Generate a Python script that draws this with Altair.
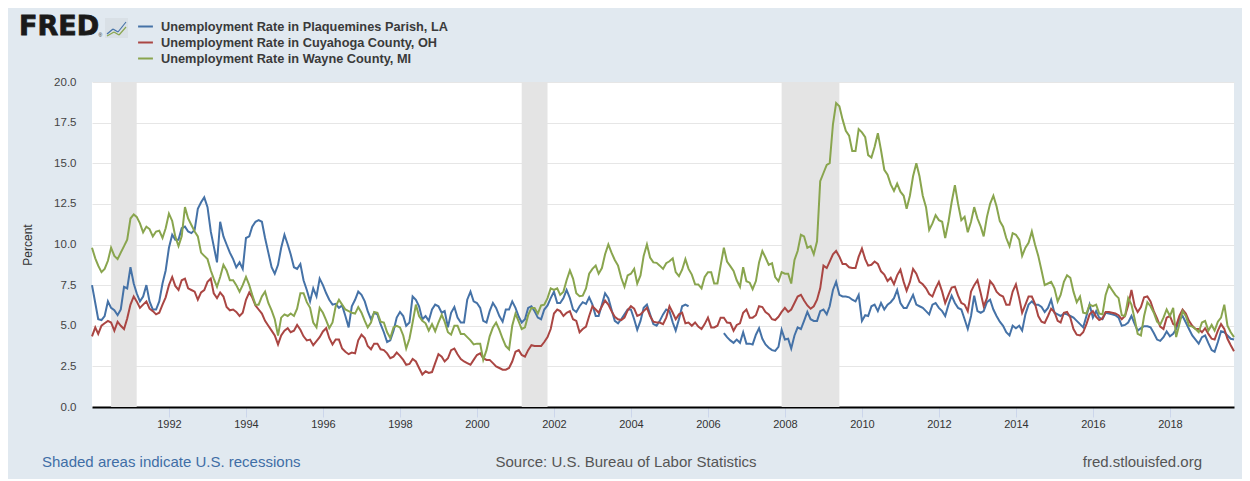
import altair as alt
import pandas as pd

N = None
# Monthly unemployment rates, Jan 1990 - Sep 2019
plaquemines = [
    7.5, 6.4, 5.4, 5.35, 5.6, 6.5, 6.1, 5.95, 5.65, 6.0, 7.4, 7.3,      # 1990
    8.6, 7.6, 7.0, 6.5, 6.8, 7.5, 6.5, 6.0, 6.0, 6.5, 7.6, 8.4,         # 1991
    9.8, 10.6, 10.3, 10.3, 11.0, 11.1, 10.8, 10.7, 10.9, 12.2, 12.6, 12.9,  # 1992
    12.3, 10.8, 9.9, 8.9, 11.4, 10.5, 10.0, 9.5, 9.1, 8.6, 8.9, 8.5,    # 1993
    10.4, 10.5, 11.1, 11.4, 11.5, 11.4, 10.4, 9.5, 8.6, 8.2, 8.75, 9.8, # 1994
    10.6, 10.0, 9.4, 8.6, 8.5, 8.8, 7.8, 7.2, 6.5, 7.3, 6.8, 7.9,       # 1995
    7.5, 7.0, 6.6, 6.3, 6.35, 6.1, 6.25, 5.6, 4.9, 6.2, 6.6, 7.1,       # 1996
    6.9, 6.5, 5.9, 5.4, 5.8, 5.7, 5.1, 4.6, 4.0, 4.1, 4.7, 5.5,         # 1997
    5.85, 5.6, 5.0, 5.2, 6.8, 6.6, 6.2, 5.4, 5.6, 5.3, 6.0, 6.3,        # 1998
    6.2, 5.8, 5.9, 4.9, 5.8, 6.15, 5.5, 5.2, 5.2, 6.6, 7.1, 6.5,        # 1999
    6.4, 6.1, 5.3, 5.2, 5.9, 6.4, 6.1, 5.6, 5.25, 6.0, 6.0, 6.5,        # 2000
    6.1, 5.55, 5.2, 5.4, 6.1, 6.2, 5.9, 5.5, 5.4, 6.0, 6.25, 6.7,       # 2001
    7.1, 6.4, 6.4, 6.7, 7.2, 6.7, 6.0, 5.85, 6.2, 6.45, 6.35, 6.75,     # 2002
    6.3, 5.6, 5.6, 6.3, 7.0, 6.7, 6.0, 5.3, 5.15, 5.4, 5.7, 6.0,        # 2003
    6.0, 5.4, 4.75, 5.3, 6.1, 6.3, 5.7, 5.1, 5.0, 5.3, 5.7, 6.0,        # 2004
    5.9, 5.2, 4.7, 5.4, 6.2, 6.3, 6.2, N, N, N, N, N,                   # 2005
    N, N, N, N, N, 4.55, 4.3, 4.1, 3.95, 4.15, 3.95, 4.6,               # 2006
    3.9, 3.9, 3.85, 4.45, 4.85, 4.2, 3.85, 3.65, 3.5, 3.45, 3.7, 4.75,  # 2007
    4.15, 4.2, 3.6, 4.4, 4.9, 4.8, 5.3, 5.85, 5.4, 5.3, 5.3, 5.9,       # 2008
    6.0, 5.7, 6.2, 7.2, 7.7, 6.9, 6.8, 6.8, 6.75, 6.6, 6.5, 6.9,        # 2009
    5.3, 5.65, 5.6, 6.2, 6.3, 5.9, 6.4, 6.0, 6.3, 6.45, 6.7, 7.2,       # 2010
    6.4, 6.1, 6.1, 6.5, 6.9, 6.3, 6.2, 6.1, 5.9, 5.7, 6.3, 6.4,         # 2011
    6.1, 5.9, 5.6, 6.3, 6.85, 6.4, 6.1, 6.0, 5.4, 4.8, 5.6, 6.85,       # 2012
    5.9, 5.8, 5.9, 6.45, 6.6, 6.0, 5.6, 5.25, 5.0, 4.6, 4.4, 5.0,       # 2013
    4.85, 5.0, 4.7, 5.7, 6.3, 6.5, 6.3, 6.3, 6.15, 5.85, 6.1, 6.6,      # 2014
    5.8, 5.7, 5.6, 5.75, 5.7, 5.6, 5.5, 5.3, 5.1, 4.9, 5.6, 6.3,        # 2015
    5.5, 5.9, 5.5, 5.4, 5.8, 5.75, 5.7, 5.65, 5.5, 5.0, 5.05, 5.2,      # 2016
    5.6, 5.1, 4.7, 4.85, 4.97, 4.97, 4.9, 4.55, 4.15, 4.07, 4.3, 4.65,  # 2017
    4.35, 4.5, 4.8, 5.4, 5.6, 5.2, 4.8, 4.4, 4.15, 3.9, 4.3, 4.4,       # 2018
    3.93, 3.5, 3.4, 4.0, 4.66, 4.6, 4.4, 4.2, 4.15,                     # 2019
]
cuyahoga = [
    4.35, 4.9, 4.5, 5.0, 5.15, 5.3, 5.2, 4.7, 5.25, 5.0, 4.8, 5.45,
    6.3, 6.8, 6.5, 6.1, 6.3, 6.5, 6.05, 5.9, 5.7, 5.8, 6.3, 6.75,
    7.5, 8.0, 7.45, 7.2, 7.8, 7.9, 7.3, 7.2, 7.1, 6.6, 7.05, 7.2,
    7.7, 7.9, 7.0, 6.7, 7.05, 6.8, 6.15, 5.95, 6.0, 5.85, 5.6, 5.8,
    6.6, 7.05, 6.75, 6.25, 6.0, 5.75, 5.3, 5.0, 4.7, 4.4, 3.85, 4.4,
    4.7, 4.85, 4.6, 4.7, 5.05, 4.75, 4.35, 4.1, 4.15, 3.8, 4.05, 4.3,
    4.65, 4.85, 4.25, 3.85, 4.15, 4.15, 3.6, 3.4, 3.25, 3.35, 3.3, 4.1,
    4.45, 4.25, 3.75, 3.55, 3.9, 3.9, 3.55, 3.5, 3.3, 3.0, 3.1, 3.35,
    3.15, 2.9, 2.6, 2.65, 2.95, 2.8, 2.4, 2.0, 2.2, 2.1, 2.15, 2.7,
    3.25, 3.1, 2.8, 3.0, 3.5, 3.6, 3.25, 2.95, 2.8, 2.7, 2.6, 2.9,
    3.2, 3.3, 3.0, 2.9, 2.9, 2.7, 2.5, 2.4, 2.3, 2.3, 2.4, 2.8,
    3.4, 3.5, 3.2, 3.1, 3.5, 3.8, 3.75, 3.75, 3.75, 4.0, 4.3, 4.8,
    5.75, 6.0, 5.9, 5.6, 5.8, 5.9, 5.4, 5.3, 4.6, 4.8, 4.95, 5.6,
    6.2, 6.0, 5.8, 6.2, 6.55, 6.3, 5.9, 5.55, 5.4, 5.35, 5.5, 5.95,
    6.2, 6.05, 5.6, 5.7, 5.9, 6.1, 5.6, 5.25, 5.2, 5.2, 5.1, 5.5,
    6.2, 5.8, 5.4, 5.7, 5.8, 5.15, 5.2, 5.0, 5.2, 4.95, 4.8, 5.1,
    5.5, 4.9, 4.9, 5.0, 5.5, 5.5, 5.2, 5.17, 4.7, 5.05, 5.15, 5.8,
    6.0, 5.5, 5.5, 5.65, 6.2, 6.15, 5.85, 5.7, 5.4, 5.35, 5.55, 5.85,
    6.1, 5.85, 6.0, 6.4, 6.8, 6.9, 6.55, 6.25, 6.05, 6.2, 6.6, 7.3,
    8.7, 8.55, 8.95, 9.4, 9.6, 9.25, 8.8, 8.8, 8.6, 8.55, 8.55, 9.25,
    9.75, 9.1, 8.7, 8.75, 8.95, 8.8, 8.35, 8.15, 7.75, 7.95, 7.55, 8.1,
    8.45, 7.7, 7.15, 7.7, 8.5, 8.2, 7.7, 7.55, 7.3, 6.95, 6.8, 7.3,
    7.7, 7.1, 6.4, 6.9, 7.35, 7.4, 6.85, 6.4, 6.3, 5.9, 7.1, 7.5,
    7.8, 7.0, 6.2, 6.7, 7.75, 7.5, 7.1, 6.9, 6.8, 6.3, 6.3, 7.1,
    7.55, 6.7, 5.8, 6.3, 6.8, 6.8, 6.35, 5.6, 5.25, 5.17, 5.6, 6.05,
    5.85, 5.3, 5.2, 5.8, 5.85, 5.5, 4.8, 4.45, 4.4, 4.6, 5.1, 5.7,
    5.9, 5.55, 5.35, 5.45, 5.85, 5.85, 5.8, 5.75, 5.65, 5.4, 5.6, 6.25,
    7.2, 6.2, 5.85, 6.15, 6.75, 6.8, 6.5, 5.9, 5.45, 4.95, 4.8, 5.5,
    5.6, 5.1, 5.0, 5.6, 6.0, 5.75, 5.3, 5.0, 4.8, 4.8, 4.6, 4.85,
    4.5, 4.2, 4.15, 4.7, 5.1, 4.8, 4.2, 3.8, 3.43,
]
wayne = [
    9.8, 9.15, 8.7, 8.3, 8.5, 9.0, 9.8, 9.3, 9.1, 9.5, 9.9, 10.3,
    11.6, 11.85, 11.7, 11.3, 10.75, 11.1, 10.95, 10.5, 10.8, 10.85, 10.4, 11.0,
    11.9, 11.45, 10.5, 9.9, 10.5, 12.3, 11.6, 11.2, 10.8, 10.5, 9.5, 9.3,
    9.1, 8.4, 7.9, 7.4, 8.0, 8.75, 8.4, 7.8, 7.8, 7.5, 7.1, 7.5,
    8.0, 7.5, 6.9, 6.3, 6.3, 6.8, 7.1, 6.4, 5.95, 5.4, 4.4, 5.5,
    5.7, 5.6, 5.75, 5.6, 6.05, 7.0, 7.0, 6.45, 6.1, 5.2, 4.9, 6.1,
    5.8, 5.33, 4.85, 5.2, 6.2, 6.6, 6.3, 6.0, 5.9, 5.8, 5.75, 6.15,
    5.8, 5.3, 4.9, 5.2, 5.85, 5.8, 5.25, 5.2, 4.6, 4.25, 4.9, 5.0,
    4.9, 4.4, 3.6, 4.2, 5.2, 6.3, 5.6, 5.3, 5.15, 4.7, 5.1, 4.66,
    5.2, 5.67, 5.25, 4.6, 4.45, 5.0, 5.0, 4.5, 4.5, 4.3, 4.1, 3.85,
    3.9, 3.9, 2.9, 3.5, 4.35, 4.9, 5.2, 4.75, 4.2, 3.75, 3.55, 5.0,
    5.75, 5.25, 4.8, 4.9, 5.65, 6.1, 6.1, 5.75, 6.25, 6.3, 6.7, 7.3,
    7.2, 7.3, 6.9, 7.1, 7.8, 8.4, 7.9, 7.0, 6.82, 6.85, 7.3, 8.2,
    8.5, 8.7, 8.2, 8.55, 9.4, 10.0, 9.5, 9.05, 8.7, 7.95, 7.4, 8.1,
    8.2, 8.5, 7.6, 8.1, 9.3, 10.0, 9.2, 8.9, 8.87, 8.7, 8.5, 8.85,
    8.97, 9.15, 8.3, 8.05, 8.45, 9.1, 8.5, 8.15, 7.55, 7.54, 7.3, 8.0,
    8.3, 8.3, 7.6, 7.6, 8.7, 9.8, 8.95, 8.67, 8.37, 7.8, 7.4, 8.6,
    7.74, 7.65, 7.25, 7.75, 8.9, 9.6, 9.2, 8.75, 8.85, 8.0, 7.74, 8.3,
    8.2, 8.2, 7.6, 9.05, 9.6, 10.6, 10.5, 9.8, 9.9, 9.4, 10.2, 13.9,
    14.4, 14.9, 15.0, 17.4, 18.7, 18.5, 17.7, 17.0, 16.7, 15.75, 15.75, 17.1,
    16.9, 16.6, 15.5, 15.35, 16.0, 16.85, 15.8, 14.6, 14.3, 13.7, 13.3, 13.75,
    13.25, 13.0, 12.2, 13.0, 14.2, 15.0, 14.2, 13.0, 12.3, 10.9, 11.3, 11.8,
    11.5, 11.4, 10.4, 11.4, 12.6, 13.65, 12.5, 11.5, 11.7, 10.75, 11.4, 12.3,
    11.6, 11.1, 10.5, 11.7, 12.5, 13.0, 12.35, 11.44, 11.1, 10.4, 9.9, 10.7,
    10.6, 10.3, 9.3, 9.8, 10.1, 10.8, 10.0, 9.3, 8.4, 7.5, 7.6, 7.7,
    7.3, 6.5, 6.9, 7.7, 8.1, 7.95, 7.1, 6.45, 6.8, 5.8, 5.75, 6.3,
    6.2, 6.3, 5.75, 5.7, 6.9, 7.5, 7.2, 6.9, 6.7, 5.65, 5.6, 6.7,
    6.3, 5.4, 4.5, 4.4, 5.6, 6.45, 6.2, 5.8, 5.25, 5.07, 5.5, 6.0,
    5.6, 6.1, 4.3, 5.1, 5.9, 5.6, 5.0, 4.95, 4.8, 4.6, 5.2, 5.3,
    4.7, 5.05, 4.7, 5.25, 5.5, 6.3, 5.0, 4.6, 4.3,
]

series_names = [
    "Unemployment Rate in Plaquemines Parish, LA",
    "Unemployment Rate in Cuyahoga County, OH",
    "Unemployment Rate in Wayne County, MI",
]
series_colors = ["#4572a7", "#aa4643", "#89a54e"]

rec_start = ["1990-07-01", "2001-03-01", "2007-12-01"]
rec_end = ["1991-03-01", "2001-11-01", "2009-06-01"]

y_ticks = [0, 2.5, 5, 7.5, 10, 12.5, 15, 17.5, 20]
x_tick_years = list(range(1992, 2019, 2))

months = pd.date_range("1990-01-01", periods=len(cuyahoga), freq="MS").strftime("%Y-%m-%d")
rows = []
for name, vals in zip(series_names, [plaquemines, cuyahoga, wayne]):
    seg = 0
    prev_none = False
    for d, v in zip(months, vals):
        if v is None:
            prev_none = True
            continue
        if prev_none:
            seg += 1
            prev_none = False
        rows.append({"date": d, "value": v, "series": name, "seg": f"{name}-{seg}"})
df = pd.DataFrame(rows)
rec_df = pd.DataFrame({"start": rec_start, "end": rec_end})

W, H = 1142, 325
FONT = "Liberation Sans"

x_scale = alt.Scale(domain=[alt.DateTime(year=1990, month=1, date=1),
                            alt.DateTime(year=2019, month=9, date=1)])

rec = alt.Chart(rec_df).mark_rect(color="#e4e4e4").encode(
    x=alt.X("start:T", scale=x_scale),
    x2="end:T",
    y=alt.value(0),
    y2=alt.value(H),
)

lines = alt.Chart(df).mark_line(strokeWidth=2, interpolate="linear").encode(
    x=alt.X("date:T", scale=x_scale,
            axis=alt.Axis(title=None, values=[alt.DateTime(year=y, month=1, date=1) for y in x_tick_years],
                          format="%Y", grid=False, domainColor="#000000", domainWidth=2,
                          tickColor="#ccd6eb", tickSize=10, tickWidth=1, labelPadding=1,
                          labelFont=FONT, labelFontSize=11, labelColor="#333333")),
    y=alt.Y("value:Q", scale=alt.Scale(domain=[0, 20], nice=False),
            axis=alt.Axis(title="Percent", values=y_ticks, format=".1f", domain=False, ticks=False,
                          labelPadding=16, labelFont=FONT, labelFontSize=11.5, labelColor="#444444",
                          gridColor="#e6e6e6", gridWidth=1,
                          titleFont=FONT, titleFontSize=12, titleFontWeight="normal",
                          titleColor="#333333", titleX=-58, titleY=H / 2)),
    color=alt.Color("series:N", scale=alt.Scale(domain=series_names, range=series_colors),
                    legend=alt.Legend(title=None, orient="none", legendX=45, legendY=-64,
                                      symbolType="stroke", symbolSize=220, symbolStrokeWidth=2,
                                      labelFont=FONT, labelFontSize=12.75, labelFontWeight="bold",
                                      labelColor="#3a3a3a", labelOffset=7, rowPadding=0,
                                      padding=0, labelLimit=0)),
    detail="seg:N",
)

one = pd.DataFrame({"a": [0]})


def txt(text, x, y, size, color, align="left", weight="normal", font=FONT, stroke=None):
    kw = {}
    if stroke is not None:
        kw = {"stroke": stroke, "strokeWidth": 0.8}
    return alt.Chart(one).mark_text(align=align, baseline="middle", font=font, fontSize=size,
                                    color=color, fontWeight=weight, **kw).encode(
        x=alt.value(x), y=alt.value(y), text=alt.value(text))


logo = txt("FRED", -73, -55, 27, "#1a1a1a", weight="bold", font="DejaVu Sans", stroke="#1a1a1a")
logo_r = txt("®", 6.5, -47, 5, "#1a1a1a")
icon_bg = alt.Chart(one).mark_rect(color="#d9e0e6").encode(
    x=alt.value(13), x2=alt.value(36), y=alt.value(-64), y2=alt.value(-44))
icon_segs = []
for (x1, y1, x2, y2, c) in [(15, -48, 21, -53, "#4572a7"), (21, -53, 26, -50, "#4572a7"),
                            (26, -50, 34, -60, "#4572a7"), (15, -46, 22, -50, "#89a54e"),
                            (22, -50, 27, -47, "#89a54e"), (27, -47, 34, -55, "#89a54e")]:
    icon_segs.append(alt.Chart(one).mark_rule(color=c, strokeWidth=1.2).encode(
        x=alt.value(x1), y=alt.value(y1), x2=alt.value(x2), y2=alt.value(y2)))

note = txt("Shaded areas indicate U.S. recessions", -50, 380, 15, "#3f6ea6")
source = txt("Source: U.S. Bureau of Labor Statistics", 534, 380, 15, "#555555", align="center")
site = txt("fred.stlouisfed.org", 1110, 380, 15, "#555555", align="right")

chart = alt.layer(rec, lines, logo, logo_r, icon_bg, *icon_segs, note, source, site).properties(
    width=W, height=H,
    autosize=alt.AutoSizeParams(type="none"),
    padding={"left": 84, "top": 74, "right": 8, "bottom": 72},
).configure(background="#e1e9f0").configure_view(fill="white", strokeWidth=0)

chart.save("out.html", embed_options={"renderer": "svg", "actions": False})
